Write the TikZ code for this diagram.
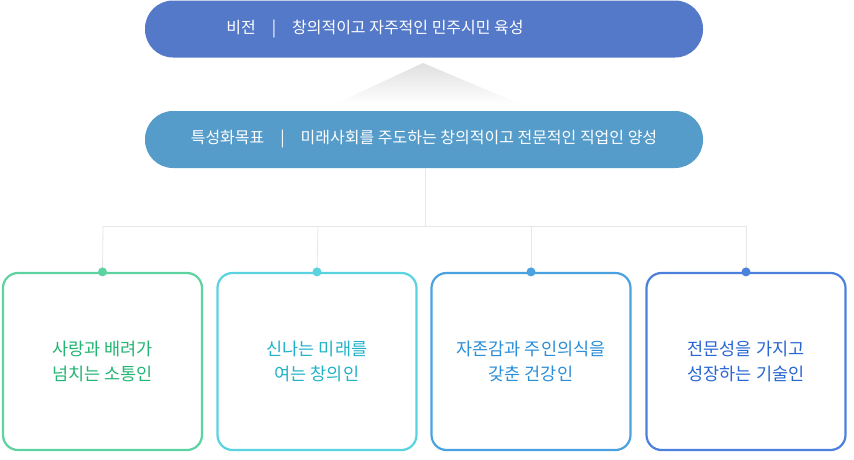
\documentclass[tikz,border=0pt]{standalone}
\usepackage{fontspec}
\setmainfont{Noto Sans CJK KR}
\usetikzlibrary{shadings}
\definecolor{visc}{HTML}{5579C9}
\definecolor{goalc}{HTML}{559CCA}
\definecolor{lnc}{HTML}{E6E6E6}
\definecolor{ca}{HTML}{5DD3A1}\definecolor{ta}{HTML}{22B573}
\definecolor{cb}{HTML}{5AD2E0}\definecolor{tb}{HTML}{1FB2C8}
\definecolor{cc}{HTML}{4BA2E0}\definecolor{tc}{HTML}{2A8ED8}
\definecolor{cd}{HTML}{4B80DC}\definecolor{td}{HTML}{2866D2}
\begin{document}
\begin{tikzpicture}[x=1pt,y=-1pt,
 pill/.style={rounded corners=28pt,minimum width=558pt,minimum height=57pt,inner sep=0pt,text=white,font=\fontsize{16}{18}\selectfont},
 card/.style={draw=#1,line width=2.2pt,rounded corners=15pt,minimum width=199pt,minimum height=177pt,fill=white,inner sep=0pt,align=center,font=\fontsize{17.5}{25}\selectfont},
 dotn/.style={circle,fill=#1,minimum size=9pt,inner sep=0pt},
 conn/.style={draw=lnc,line width=0.8pt}]
\useasboundingbox (0,0) rectangle (854,459);
\shade[top color=gray!25,bottom color=white] (423,63) -- (520,104) -- (335,104) -- cycle;
\node[pill,fill=visc] (vis) at (424,29) {\hspace*{-98pt}비전\quad|\quad 창의적이고 자주적인 민주시민 육성};
\node[pill,fill=goalc] (goal) at (424,139.5) {특성화목표\quad|\quad 미래사회를 주도하는 창의적이고 전문적인 직업인 양성};
\coordinate (hub) at (425,226);
\coordinate (hl) at (103,226);\coordinate (hr) at (746,226);
\draw[conn] (goal.south -| hub) -- (hub);
\draw[conn] (hl) -- (hr);
\node[card=ca,text=ta] (c1) at (102.5,361.5) {사랑과 배려가\\넘치는 소통인};
\node[card=cb,text=tb] (c2) at (317,361.5) {신나는 미래를\\여는 창의인};
\node[card=cc,text=tc] (c3) at (531,361.5) {자존감과 주인의식을\\갖춘 건강인};
\node[card=cd,text=td] (c4) at (746,361.5) {전문성을 가지고\\성장하는 기술인};
\foreach \c/\k/\x in {c1/ca/103,c2/cb/318,c3/cc/531,c4/cd/746}{
 \draw[conn] (\x,226) -- (\c.north);
 \node[dotn=\k] at (\c.north) {};
}
\end{tikzpicture}
\end{document}
